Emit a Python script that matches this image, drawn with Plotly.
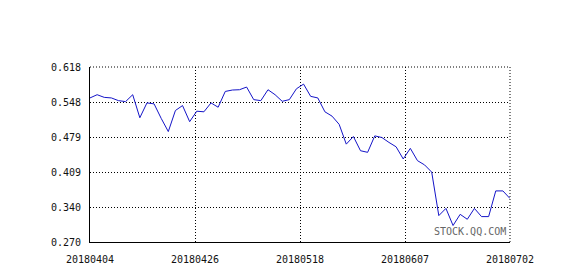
import plotly.graph_objects as go

# values (index-based x, one point per trading day)
values = [
    0.5565, 0.5629, 0.5576, 0.5565, 0.5511, 0.5492, 0.5629, 0.5171, 0.5466, 0.5447,
    0.5158, 0.4896, 0.5315, 0.5413, 0.5093, 0.5301, 0.5289, 0.5466, 0.5380, 0.5694,
    0.5722, 0.5728, 0.5781, 0.5531, 0.5511, 0.5728, 0.5629, 0.5498, 0.5531, 0.5747,
    0.5840, 0.5596, 0.5565, 0.5289, 0.5203, 0.5040, 0.4646, 0.4798, 0.4515, 0.4483,
    0.4810, 0.4778, 0.4680, 0.4593, 0.4351, 0.4562, 0.4318, 0.4233, 0.4090, 0.3225,
    0.3368, 0.3028, 0.3250, 0.3152, 0.3368, 0.3205, 0.3205, 0.3716, 0.3716, 0.3565,
]
x_index = list(range(len(values)))

x_tick_labels = ["20180404", "20180426", "20180518", "20180607", "20180702"]
y_tick_labels = ["0.270", "0.340", "0.409", "0.479", "0.548", "0.618"]

n = len(values) - 1
x_tick_vals = [n * k / (len(x_tick_labels) - 1) for k in range(len(x_tick_labels))]
y_min, y_max = 0.270, 0.618
y_tick_vals = [y_min + (y_max - y_min) * k / (len(y_tick_labels) - 1) for k in range(len(y_tick_labels))]

font = dict(family="DejaVu Sans Mono", size=10, color="#111111")
dot = "1px,2px"

fig = go.Figure()
fig.add_trace(go.Scatter(
    x=x_index, y=values, mode="lines",
    line=dict(color="#1414c8", width=1),
    hoverinfo="skip", showlegend=False,
))

fig.update_layout(
    width=577, height=277,
    margin=dict(l=90, r=67, t=67, b=33),
    paper_bgcolor="white", plot_bgcolor="white",
    font=font,
    xaxis=dict(
        range=[0, n], tickmode="array", tickvals=x_tick_vals, ticktext=x_tick_labels,
        showgrid=True, gridcolor="black", griddash=dot, gridwidth=1,
        showline=True, linecolor="black", linewidth=1, zeroline=False,
        ticks="", ticklabelstandoff=8, tickfont=font, fixedrange=True,
    ),
    yaxis=dict(
        range=[y_min, y_max], tickmode="array", tickvals=y_tick_vals, ticktext=y_tick_labels,
        showgrid=True, gridcolor="black", griddash=dot, gridwidth=1,
        showline=True, linecolor="black", linewidth=1, zeroline=False,
        ticks="", ticklabelstandoff=6, tickfont=font, fixedrange=True,
    ),
    shapes=[
        dict(type="line", xref="paper", yref="paper", x0=0, x1=1, y0=1, y1=1,
             line=dict(color="black", width=1, dash=dot)),
        dict(type="line", xref="paper", yref="paper", x0=1, x1=1, y0=0, y1=1,
             line=dict(color="black", width=1, dash=dot)),
    ],
    annotations=[
        dict(text="STOCK.QQ.COM", xref="paper", yref="paper", x=0.995, y=0.02,
             xanchor="right", yanchor="bottom", showarrow=False,
             font=dict(family="DejaVu Sans Mono", size=10, color="#666666")),
    ],
)

fig.write_html("out.html", config={"displayModeBar": False})
